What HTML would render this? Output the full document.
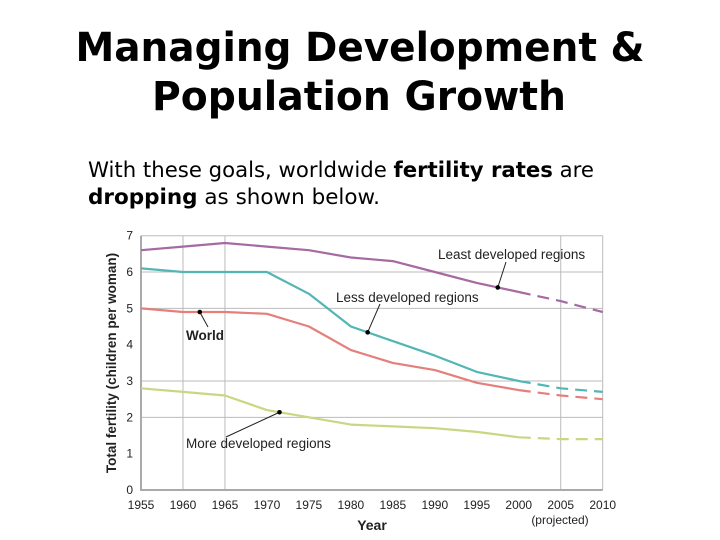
<!DOCTYPE html>
<html><head><meta charset="utf-8"><style>
html,body{margin:0;padding:0;background:#fff;width:720px;height:540px;overflow:hidden}
svg{display:block}
</style></head><body>
<svg id="chart" width="720" height="540" xmlns="http://www.w3.org/2000/svg">
<g font-family="'DejaVu Sans', sans-serif" font-weight="bold" font-size="40" text-anchor="middle" fill="#000">
<text x="360" y="61" textLength="569" lengthAdjust="spacingAndGlyphs">Managing Development &amp;</text>
<text x="359" y="110" textLength="414" lengthAdjust="spacingAndGlyphs">Population Growth</text>
</g>
<g font-family="'DejaVu Sans', sans-serif" font-size="21" fill="#000">
<text x="88" y="177" textLength="506" lengthAdjust="spacingAndGlyphs">With these goals, worldwide <tspan font-weight="bold">fertility rates</tspan> are</text>
<text x="88" y="204" textLength="292" lengthAdjust="spacingAndGlyphs"><tspan font-weight="bold">dropping</tspan> as shown below.</text>
</g>
<g id="grid"></g>
<g id="axes" font-family="'Liberation Sans', sans-serif" font-size="12" fill="#222"></g>
<g id="series"></g>
<g id="notes" font-family="'Liberation Sans', sans-serif" font-size="13.5" fill="#222"></g>
</svg>
<script>
const years = [1955,1960,1965,1970,1975,1980,1985,1990,1995,2000,2005,2010];
const leastDeveloped = [6.6,6.7,6.8,6.7,6.6,6.4,6.3,6.0,5.7,5.45,5.2,4.9];
const lessDeveloped = [6.1,6.0,6.0,6.0,5.4,4.5,4.1,3.7,3.25,3.0,2.8,2.7];
const world = [5.0,4.9,4.9,4.85,4.5,3.85,3.5,3.3,2.95,2.75,2.6,2.5];
const moreDeveloped = [2.8,2.7,2.6,2.2,2.0,1.8,1.75,1.7,1.6,1.45,1.4,1.4];
const yTicks = [0,1,2,3,4,5,6,7];
const gridTicks = [2,3,5,6,7];
const projectedFrom = 2000;

const NS='http://www.w3.org/2000/svg';
const X0=141,X1=602.7,Y0=490,Y7=235.7;
const xs=y=>X0+(y-1955)/(2010-1955)*(X1-X0);
const ys=v=>Y0-v/7*(Y0-Y7);
function mk(tag,attrs,parent,text){const e=document.createElementNS(NS,tag);for(const k in attrs)e.setAttribute(k,attrs[k]);if(text!==undefined)e.textContent=text;parent.appendChild(e);return e;}
const grid=document.getElementById('grid'),axes=document.getElementById('axes'),ser=document.getElementById('series'),notes=document.getElementById('notes');
gridTicks.forEach(t=>{
  const l=mk('line',{x1:X0,x2:X1,y1:ys(t),y2:ys(t),stroke:'#bbb','stroke-width':1},grid);
  
  
});
yTicks.forEach(t=>{
  const tx=mk('text',{x:X0-8,y:ys(t)+4,'text-anchor':'end'},axes,String(t));
  
  
});
[1960,1965,2005,2010].forEach(yr=>{
  const l=mk('line',{x1:xs(yr),x2:xs(yr),y1:Y7,y2:Y0,stroke:'#bbb','stroke-width':1},grid);
  
  
});
const ax=mk('path',{d:`M${X0},${Y7}V${Y0}H${X1}`,stroke:'#aaa',fill:'none','stroke-width':2},grid);


years.forEach(yr=>{
  const t=mk('text',{x:xs(yr),y:Y0+19,'text-anchor':'middle'},axes,String(yr));
  
  
});
let t=mk('text',{x:372,y:530,'text-anchor':'middle','font-weight':'bold','font-size':14},axes,'Year');


t=mk('text',{x:560,y:524,'text-anchor':'middle','font-size':12},axes,'(projected)');


t=mk('text',{x:0,y:0,'text-anchor':'middle','font-weight':'bold','font-size':13.5,transform:'translate(116,363) rotate(-90)'},axes,'Total fertility (children per woman)');



function drawSeries(vals,color,name){
  let solid='',dash='';
  years.forEach((yr,i)=>{
    const p=`${xs(yr).toFixed(1)},${ys(vals[i]).toFixed(1)}`;
    if(yr<=projectedFrom) solid+=(solid?'L':'M')+p;
    if(yr>=projectedFrom) dash+=(dash?'L':'M')+p;
  });
  const a=mk('path',{d:solid,stroke:color,fill:'none','stroke-width':2.2,'stroke-linejoin':'round'},ser);
  
  
  const b=mk('path',{d:dash,stroke:color,fill:'none','stroke-width':2.2,'stroke-dasharray':'12,7'},ser);
  
  
}
drawSeries(moreDeveloped,'#c6d882','more-developed');
drawSeries(world,'#e47f7b','world');
drawSeries(lessDeveloped,'#52b6b4','less-developed');
drawSeries(leastDeveloped,'#a56aa2','least-developed');

function interp(vals,yr){const i=Math.min(Math.floor((yr-1955)/5),10);const f=(yr-years[i])/5;return vals[i]+(vals[i+1]-vals[i])*f;}
function note(vals,yr,lx,ly,tx,ty,label,name,bold){
  const px=xs(yr),py=ys(interp(vals,yr));
  let e=mk('line',{x1:px,y1:py,x2:lx,y2:ly,stroke:'#222','stroke-width':1},notes);
  
  
  e=mk('circle',{cx:px,cy:py,r:2.3,fill:'#000'},notes);
  
  
  e=mk('text',{x:tx,y:ty,'font-weight':bold?'bold':'normal'},notes,label);
  
  
}
note(leastDeveloped,1997.5,506,262,438,259,'Least developed regions','least-developed',false);
note(lessDeveloped,1982,380,304,336,302,'Less developed regions','less-developed',false);
note(world,1962,208,327,186,340,'World','world',true);
note(moreDeveloped,1971.5,226,437,186,448,'More developed regions','more-developed',false);
</script>
</body></html>
